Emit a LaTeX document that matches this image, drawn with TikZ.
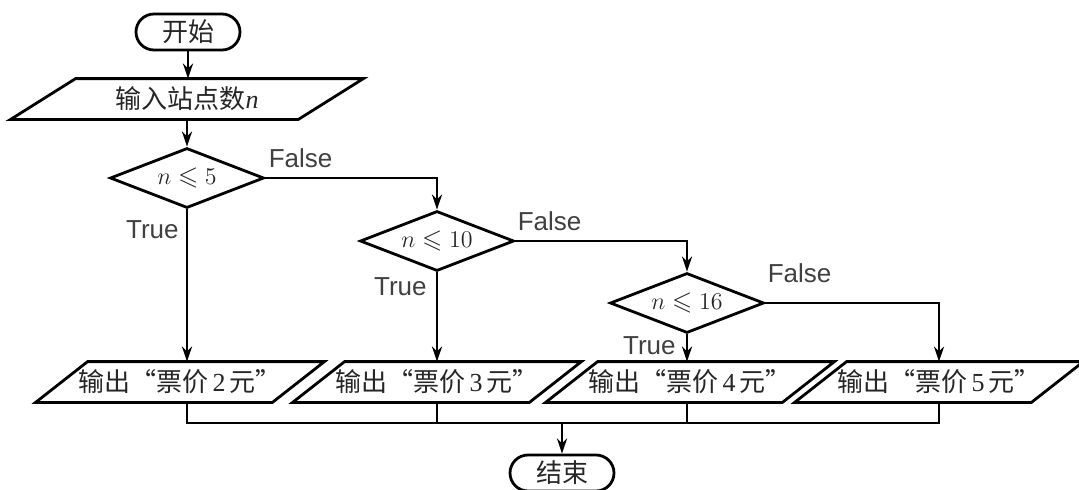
\documentclass[tikz,border=0pt]{standalone}
\usepackage{fontspec}
\usepackage{amssymb}
\setmainfont{Liberation Serif}
\setsansfont{Liberation Sans}
\newfontfamily\cjk{Noto Sans CJK SC}
\usetikzlibrary{shapes.geometric,arrows.meta}

\begin{document}
\begin{tikzpicture}[x=0.5pt,y=-0.5pt,line width=1.4pt,
    arr/.style={-{Stealth[length=7.5pt,width=5pt]}},
    term/.style={draw,rounded corners=9pt,minimum width=52pt,minimum height=18pt,inner sep=0pt,
        font=\cjk\fontsize{13}{15}\selectfont,text=black!85},
    iobox/.style={minimum width=117pt,minimum height=19pt,inner sep=0pt,
        font=\cjk\fontsize{13}{15}\selectfont,text=black!85},
    cond/.style={draw,diamond,aspect=2.6,minimum width=77pt,minimum height=30pt,inner sep=0pt,
        font=\fontsize{13}{15}\selectfont,text=black!85},
    lbl/.style={inner sep=0pt,font=\sffamily\fontsize{13}{15}\selectfont,text=black!75}
]
    \useasboundingbox (0,0) rectangle (1079,489);

    \node[term] (start) at (188,32) {开始};
    \node[iobox,minimum width=142.5pt] (in) at (187,99) {输入站点数{\rmfamily\itshape n}};
    \draw ([xshift=16.25pt]in.north west) -- ([xshift=16.25pt]in.north east)
        -- ([xshift=-16.25pt]in.south east) -- ([xshift=-16.25pt]in.south west) -- cycle;

    % conditions
    \foreach \x/\y/\k [count=\i] in {187/178/5,437/241/10,687/303/16}{
        \node[cond] (d\i) at (\x,\y) {$n\leqslant \k$};
    }

    % outputs
    \foreach \x/\v [count=\i] in {180/2,437/3,690/4,939/5}{
        \node[iobox] (o\i) at (\x,382) {输出“票价\,{\rmfamily\v}\,元”};
        \draw ([xshift=13pt]o\i.north west) -- ([xshift=13pt]o\i.north east)
            -- ([xshift=-13pt]o\i.south east) -- ([xshift=-13pt]o\i.south west) -- cycle;
    }

    \node[term] (end) at (562,473) {结束};

    \node[lbl,anchor=base west] (f1) at ([xshift=1pt,yshift=5.5pt]d1.east) {False};
    \node[lbl,anchor=base west] (f2) at ([xshift=0.5pt,yshift=5.5pt]d2.east) {False};
    \node[lbl,anchor=base west] (f3) at ([xshift=0.5pt,yshift=10.5pt]d3.east) {False};
    \node[lbl,anchor=base east] (t1) at ([xshift=-3.5pt,yshift=-14.5pt]d1.south) {True};
    \node[lbl,anchor=base east] (t2) at ([xshift=-4.5pt,yshift=-11.5pt]d2.south) {True};
    \node[lbl,anchor=base east] (t3) at ([xshift=-5pt,yshift=-10pt]d3.south) {True};

    \draw[arr] (start.south) -- (start.south |- in.north);
    \draw[arr] (in.south -| d1.north) -- (d1.north);
    \draw[arr] (d1.east) -| (d2.north);
    \draw[arr] (d2.east) -| (d3.north);
    \draw[arr] (d3.east) -| (o4.north);
    \foreach \i in {1,2,3}{
        \draw[arr] (d\i.south) -- (d\i.south |- o\i.north);
    }

    % join to the end
    \coordinate (m) at (562,423);
    \draw (d1.south |- o1.south) -- (d1.south |- m) -- (o4.south |- m) -- (o4.south);
    \draw (o2.south) -- (o2.south |- m);
    \draw (d3.south |- o3.south) -- (d3.south |- m);
    \draw[arr] (end.north |- m) -- (end.north);
\end{tikzpicture}
\end{document}
